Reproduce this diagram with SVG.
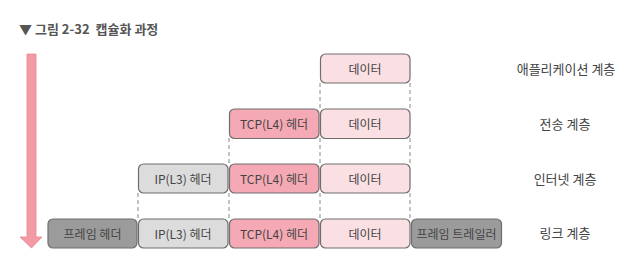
<svg xmlns="http://www.w3.org/2000/svg" width="635" height="262" viewBox="0 0 635 262">
<style>
text{font-family:"Noto Sans CJK KR","Noto Sans",sans-serif;fill:#444}
.title{font-size:13px;font-weight:bold;fill:#555;white-space:pre}
.lbl{font-size:13px;text-anchor:middle;fill:#444}
.bt{font-size:12px;text-anchor:middle;dominant-baseline:central}
.box{stroke:#6e6e6e;stroke-width:1.2}
.data{fill:#fadfe3}
.tcp{fill:#f4a9b4}
.ip{fill:#dcdcdc}
.frm{fill:#9b9b9b}
.dash{stroke:#888;stroke-width:1;stroke-dasharray:4 3;fill:none}
</style>
<rect width="635" height="262" fill="#fff"/>
<text class="title" x="19" y="34" xml:space="preserve">▼ 그림 2-32  캡슐화 과정</text>
<g id="arrow">
<path d="M27,54 H36 V237 H42 L31.5,248 L20,237 H27 Z" fill="#f29ba6" stroke="#e48894" stroke-width="0.8"/>
</g>
<g id="connectors">
<path class="dash" d="M320,83 V109 M410,83 V109 M320,138 V164 M410,138 V164 M229,138 V164 M320,193 V219 M410,193 V219 M229,193 V219 M138,193 V219"/>
</g>
<g id="row1">
<g id="r1-data"><rect class="box data" x="320.5" y="54" width="89.5" height="29" rx="5"/><text class="bt" x="365" y="68.5">데이터</text></g>
</g>
<g id="row2">
<g id="r2-tcp"><rect class="box tcp" x="229.5" y="109" width="89.5" height="29.5" rx="5"/><text class="bt" x="274" y="123.5">TCP(L4) 헤더</text></g>
<g id="r2-data"><rect class="box data" x="320.5" y="109" width="89.5" height="29.5" rx="5"/><text class="bt" x="365" y="123.5">데이터</text></g>
</g>
<g id="row3">
<g id="r3-ip"><rect class="box ip" x="138.5" y="164" width="89.5" height="29" rx="5"/><text class="bt" x="183" y="178.5">IP(L3) 헤더</text></g>
<g id="r3-tcp"><rect class="box tcp" x="229.5" y="164" width="89.5" height="29" rx="5"/><text class="bt" x="274" y="178.5">TCP(L4) 헤더</text></g>
<g id="r3-data"><rect class="box data" x="320.5" y="164" width="89.5" height="29" rx="5"/><text class="bt" x="365" y="178.5">데이터</text></g>
</g>
<g id="row4">
<g id="r4-fh"><rect class="box frm" x="48" y="219" width="89" height="29" rx="5"/><text class="bt" x="92.5" y="233.5">프레임 헤더</text></g>
<g id="r4-ip"><rect class="box ip" x="138.5" y="219" width="89.5" height="29" rx="5"/><text class="bt" x="183" y="233.5">IP(L3) 헤더</text></g>
<g id="r4-tcp"><rect class="box tcp" x="229.5" y="219" width="89.5" height="29" rx="5"/><text class="bt" x="274" y="233.5">TCP(L4) 헤더</text></g>
<g id="r4-data"><rect class="box data" x="320.5" y="219" width="89.5" height="29" rx="5"/><text class="bt" x="365" y="233.5">데이터</text></g>
<g id="r4-ft"><rect class="box frm" x="411.5" y="219" width="90" height="29" rx="5"/><text class="bt" x="456.5" y="233.5">프레임 트레일러</text></g>
</g>
<g id="layers">
<text class="lbl" x="566" y="73.5">애플리케이션 계층</text>
<text class="lbl" x="565" y="129">전송 계층</text>
<text class="lbl" x="565" y="184">인터넷 계층</text>
<text class="lbl" x="565" y="238">링크 계층</text>
</g>
</svg>
